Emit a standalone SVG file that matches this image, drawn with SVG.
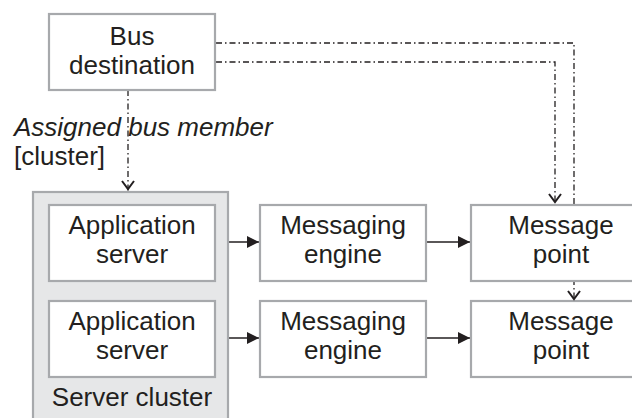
<svg xmlns="http://www.w3.org/2000/svg" width="632" height="418" viewBox="0 0 632 418">
<defs>
<style>
.box{fill:#fff;stroke:#a7a9ac;stroke-width:2.2}
.cl{fill:#e6e7e8;stroke:#a7a9ac;stroke-width:2.2}
.t{font-family:"Liberation Sans",Arial,sans-serif;font-size:26px;fill:#231f20;text-anchor:middle}
.lbl{font-family:"Liberation Sans",Arial,sans-serif;font-size:26px;fill:#231f20}
.dd{fill:none;stroke:#231f20;stroke-width:1.3;stroke-dasharray:6 3 1.5 3}
.sol{fill:none;stroke:#231f20;stroke-width:1.5}
.vh{fill:none;stroke:#231f20;stroke-width:2}
</style>
<marker id="fill" viewBox="0 0 12 12" refX="12" refY="6" markerWidth="12" markerHeight="12" markerUnits="userSpaceOnUse" orient="auto">
<path d="M0,0 L12,6 L0,12 Z" fill="#231f20"/>
</marker>
</defs>
<rect width="632" height="418" fill="#fff"/>
<g id="connectors">
<path class="dd" d="M216,43 H574 V300"/>
<path class="dd" d="M216,62 H555 V204"/>
<path class="dd" d="M128,90 V191"/>
<line class="sol" x1="215" y1="242" x2="259" y2="242" marker-end="url(#fill)"/>
<line class="sol" x1="215" y1="338" x2="259" y2="338" marker-end="url(#fill)"/>
<line class="sol" x1="427" y1="242" x2="470" y2="242" marker-end="url(#fill)"/>
<line class="sol" x1="427" y1="338" x2="470" y2="338" marker-end="url(#fill)"/>
</g>
<g id="cluster">
<rect class="cl" x="33" y="192" width="195" height="240"/>
<text class="t" x="132" y="406">Server cluster</text>
</g>
<g id="bus-destination">
<rect class="box" x="49" y="14" width="166" height="76"/>
<text class="t" x="132" y="45">Bus</text>
<text class="t" x="132" y="74">destination</text>
</g>
<g id="label-assigned">
<text class="lbl" x="14" y="136" font-style="italic">Assigned bus member</text>
<text class="lbl" x="14" y="165">[cluster]</text>
</g>
<g id="app-server-1">
<rect class="box" x="49" y="205" width="166" height="76"/>
<text class="t" x="132" y="234">Application</text>
<text class="t" x="132" y="263">server</text>
</g>
<g id="app-server-2">
<rect class="box" x="49" y="301" width="166" height="76"/>
<text class="t" x="132" y="330">Application</text>
<text class="t" x="132" y="359">server</text>
</g>
<g id="messaging-engine-1">
<rect class="box" x="260" y="205" width="166" height="76"/>
<text class="t" x="343" y="234">Messaging</text>
<text class="t" x="343" y="263">engine</text>
</g>
<g id="messaging-engine-2">
<rect class="box" x="260" y="301" width="166" height="76"/>
<text class="t" x="343" y="330">Messaging</text>
<text class="t" x="343" y="359">engine</text>
</g>
<g id="message-point-1">
<rect class="box" x="471" y="205" width="180" height="76"/>
<text class="t" x="561" y="234">Message</text>
<text class="t" x="561" y="263">point</text>
</g>
<g id="message-point-2">
<rect class="box" x="471" y="301" width="180" height="76"/>
<text class="t" x="561" y="330">Message</text>
<text class="t" x="561" y="359">point</text>
</g>
<g id="arrowheads">
<path class="vh" d="M122,181 L128,189 L134,181"/>
<path class="vh" d="M549,194 L555,202 L561,194"/>
<path class="vh" d="M568,291 L574,299 L580,291"/>
</g>
</svg>
